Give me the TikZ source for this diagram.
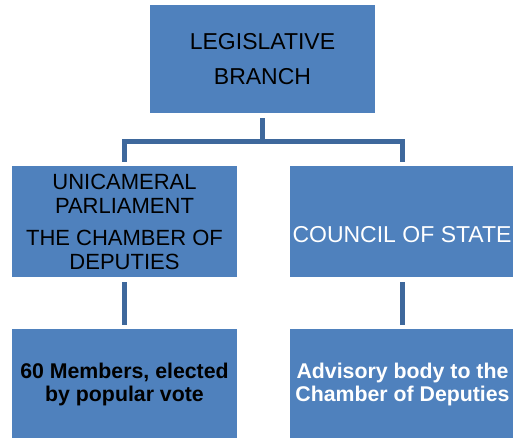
\documentclass[tikz,border=0pt]{standalone}
\usepackage{fontspec}
\setmainfont{Liberation Sans}
\definecolor{boxblue}{RGB}{79,129,189}
\definecolor{connblue}{RGB}{62,104,156}
\begin{document}
\begin{tikzpicture}[x=1pt,y=-1pt,
  box/.style={fill=boxblue,rectangle,inner sep=0pt,
    minimum width=225pt,minimum height=111pt,align=center},
  conn/.style={draw=connblue,line width=5pt,line join=miter},
  topfont/.style={font=\fontsize{23}{35}\selectfont},
  midfont/.style={font=\fontsize{22}{24}\selectfont},
  botfont/.style={font=\bfseries\fontsize{21.3}{22.5}\selectfont}]
\useasboundingbox (0,0) rectangle (513,438);
\clip (0,0) rectangle (513,438);
\node[box,topfont,minimum height=108pt] (top) at (262.5,59) {LEGISLATIVE\\BRANCH};
\node[box,midfont] (left) at (124.5,221.5) {UNICAMERAL\\PARLIAMENT\\[8pt]THE CHAMBER OF\\DEPUTIES};
\node[box] (right) at (402.5,221.5) {};
\node[font=\fontsize{23}{24}\selectfont,text=white,inner sep=0pt] (council) at (402,235) {COUNCIL OF STATE};
\node[box,botfont] (bl) at (124.5,384.5) {60 Members, elected\\by popular vote};
\node[box,botfont,text=white] (br) at (402.5,384.5) {Advisory body to the\\Chamber of Deputies};
\coordinate (hb) at (0,142);
\draw[conn,shorten <=5pt] (top.south) -- (top.south |- hb);
\draw[conn,shorten <=4pt,shorten >=4pt] (left.north) -- (left.north |- hb) -- (right.north |- hb) -- (right.north);
\draw[conn,shorten <=5pt,shorten >=4pt] (left.south) -- (bl.north);
\draw[conn,shorten <=5pt,shorten >=4pt] (right.south) -- (br.north);
\end{tikzpicture}
\end{document}
